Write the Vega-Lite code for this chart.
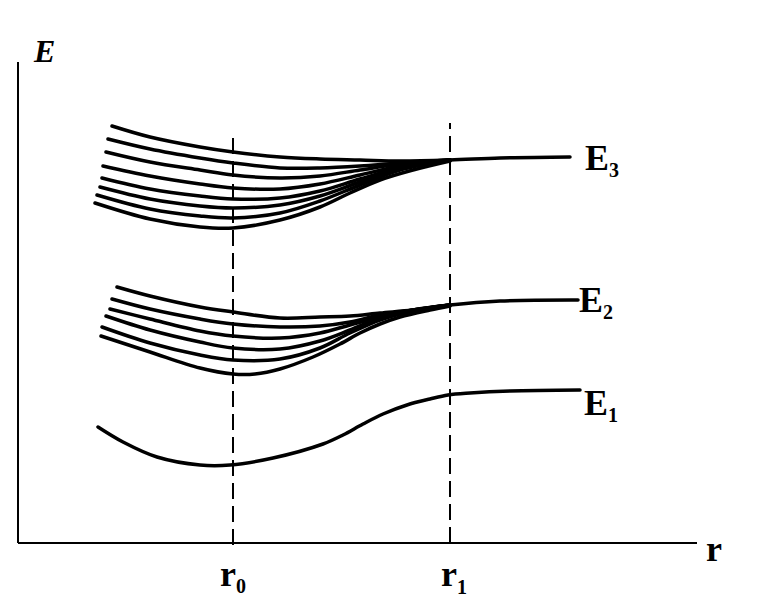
{
  "$schema": "https://vega.github.io/schema/vega-lite/v6.json",
  "width": 760,
  "height": 600,
  "padding": 0,
  "autosize": {"type": "fit", "contains": "padding"},
  "background": "white",
  "config": {"view": {"stroke": null}},
  "datasets": {
    "curves": [
      {"s": "E3a", "r": 112, "E": 474}, {"s": "E3a", "r": 150, "E": 463}, {"s": "E3a", "r": 200, "E": 453}, {"s": "E3a", "r": 233, "E": 448}, {"s": "E3a", "r": 280, "E": 443}, {"s": "E3a", "r": 320, "E": 441}, {"s": "E3a", "r": 360, "E": 440}, {"s": "E3a", "r": 400, "E": 439}, {"s": "E3a", "r": 450, "E": 440}, {"s": "E3a", "r": 500, "E": 442}, {"s": "E3a", "r": 570, "E": 443},
      {"s": "E3b", "r": 108, "E": 461}, {"s": "E3b", "r": 150, "E": 451}, {"s": "E3b", "r": 200, "E": 442}, {"s": "E3b", "r": 233, "E": 437}, {"s": "E3b", "r": 280, "E": 432}, {"s": "E3b", "r": 320, "E": 432}, {"s": "E3b", "r": 360, "E": 434}, {"s": "E3b", "r": 400, "E": 437}, {"s": "E3b", "r": 450, "E": 440},
      {"s": "E3c", "r": 106, "E": 448}, {"s": "E3c", "r": 150, "E": 438}, {"s": "E3c", "r": 200, "E": 430}, {"s": "E3c", "r": 233, "E": 425}, {"s": "E3c", "r": 280, "E": 422}, {"s": "E3c", "r": 320, "E": 424}, {"s": "E3c", "r": 360, "E": 430}, {"s": "E3c", "r": 400, "E": 436}, {"s": "E3c", "r": 450, "E": 440},
      {"s": "E3d", "r": 103, "E": 434}, {"s": "E3d", "r": 150, "E": 424}, {"s": "E3d", "r": 200, "E": 416}, {"s": "E3d", "r": 233, "E": 412}, {"s": "E3d", "r": 280, "E": 411}, {"s": "E3d", "r": 320, "E": 416}, {"s": "E3d", "r": 360, "E": 425}, {"s": "E3d", "r": 400, "E": 434}, {"s": "E3d", "r": 450, "E": 440},
      {"s": "E3e", "r": 102, "E": 422}, {"s": "E3e", "r": 150, "E": 411}, {"s": "E3e", "r": 200, "E": 404}, {"s": "E3e", "r": 233, "E": 401}, {"s": "E3e", "r": 280, "E": 402}, {"s": "E3e", "r": 320, "E": 409}, {"s": "E3e", "r": 360, "E": 421}, {"s": "E3e", "r": 400, "E": 432}, {"s": "E3e", "r": 450, "E": 440},
      {"s": "E3f", "r": 100, "E": 413}, {"s": "E3f", "r": 150, "E": 401}, {"s": "E3f", "r": 200, "E": 394}, {"s": "E3f", "r": 233, "E": 392}, {"s": "E3f", "r": 280, "E": 395}, {"s": "E3f", "r": 320, "E": 404}, {"s": "E3f", "r": 360, "E": 418}, {"s": "E3f", "r": 400, "E": 431}, {"s": "E3f", "r": 450, "E": 440},
      {"s": "E3g", "r": 97, "E": 405}, {"s": "E3g", "r": 150, "E": 391}, {"s": "E3g", "r": 200, "E": 384}, {"s": "E3g", "r": 233, "E": 382}, {"s": "E3g", "r": 280, "E": 387}, {"s": "E3g", "r": 320, "E": 399}, {"s": "E3g", "r": 360, "E": 415}, {"s": "E3g", "r": 400, "E": 430}, {"s": "E3g", "r": 450, "E": 440},
      {"s": "E3h", "r": 95, "E": 397}, {"s": "E3h", "r": 150, "E": 381}, {"s": "E3h", "r": 200, "E": 373}, {"s": "E3h", "r": 233, "E": 372}, {"s": "E3h", "r": 280, "E": 380}, {"s": "E3h", "r": 320, "E": 393}, {"s": "E3h", "r": 350, "E": 407}, {"s": "E3h", "r": 380, "E": 420}, {"s": "E3h", "r": 413, "E": 430}, {"s": "E3h", "r": 450, "E": 439},
      {"s": "E2a", "r": 117, "E": 313}, {"s": "E2a", "r": 150, "E": 304}, {"s": "E2a", "r": 200, "E": 293}, {"s": "E2a", "r": 233, "E": 288}, {"s": "E2a", "r": 280, "E": 282}, {"s": "E2a", "r": 320, "E": 283}, {"s": "E2a", "r": 350, "E": 284}, {"s": "E2a", "r": 380, "E": 287}, {"s": "E2a", "r": 413, "E": 290}, {"s": "E2a", "r": 450, "E": 295}, {"s": "E2a", "r": 500, "E": 299}, {"s": "E2a", "r": 578, "E": 300},
      {"s": "E2b", "r": 112, "E": 301}, {"s": "E2b", "r": 150, "E": 291}, {"s": "E2b", "r": 200, "E": 281}, {"s": "E2b", "r": 233, "E": 276}, {"s": "E2b", "r": 280, "E": 273}, {"s": "E2b", "r": 320, "E": 274}, {"s": "E2b", "r": 350, "E": 278}, {"s": "E2b", "r": 380, "E": 285}, {"s": "E2b", "r": 413, "E": 290}, {"s": "E2b", "r": 450, "E": 295},
      {"s": "E2c", "r": 110, "E": 291}, {"s": "E2c", "r": 150, "E": 281}, {"s": "E2c", "r": 200, "E": 269}, {"s": "E2c", "r": 233, "E": 264}, {"s": "E2c", "r": 280, "E": 262}, {"s": "E2c", "r": 320, "E": 267}, {"s": "E2c", "r": 350, "E": 275}, {"s": "E2c", "r": 380, "E": 283}, {"s": "E2c", "r": 413, "E": 290}, {"s": "E2c", "r": 450, "E": 295},
      {"s": "E2d", "r": 106, "E": 284}, {"s": "E2d", "r": 150, "E": 270}, {"s": "E2d", "r": 200, "E": 258}, {"s": "E2d", "r": 233, "E": 252}, {"s": "E2d", "r": 280, "E": 251}, {"s": "E2d", "r": 320, "E": 259}, {"s": "E2d", "r": 350, "E": 270}, {"s": "E2d", "r": 380, "E": 282}, {"s": "E2d", "r": 413, "E": 290}, {"s": "E2d", "r": 450, "E": 295},
      {"s": "E2e", "r": 102, "E": 273}, {"s": "E2e", "r": 150, "E": 257}, {"s": "E2e", "r": 200, "E": 245}, {"s": "E2e", "r": 233, "E": 240}, {"s": "E2e", "r": 280, "E": 241}, {"s": "E2e", "r": 320, "E": 252}, {"s": "E2e", "r": 350, "E": 267}, {"s": "E2e", "r": 380, "E": 280}, {"s": "E2e", "r": 413, "E": 289}, {"s": "E2e", "r": 450, "E": 295},
      {"s": "E2f", "r": 101, "E": 264}, {"s": "E2f", "r": 150, "E": 248}, {"s": "E2f", "r": 200, "E": 232}, {"s": "E2f", "r": 233, "E": 226}, {"s": "E2f", "r": 255, "E": 226}, {"s": "E2f", "r": 280, "E": 231}, {"s": "E2f", "r": 313, "E": 243}, {"s": "E2f", "r": 340, "E": 256}, {"s": "E2f", "r": 360, "E": 267}, {"s": "E2f", "r": 380, "E": 276}, {"s": "E2f", "r": 400, "E": 283}, {"s": "E2f", "r": 430, "E": 290}, {"s": "E2f", "r": 450, "E": 294},
      {"s": "E1", "r": 98, "E": 173}, {"s": "E1", "r": 123, "E": 158}, {"s": "E1", "r": 157, "E": 143}, {"s": "E1", "r": 200, "E": 135}, {"s": "E1", "r": 230, "E": 135}, {"s": "E1", "r": 273, "E": 142}, {"s": "E1", "r": 323, "E": 156}, {"s": "E1", "r": 343, "E": 165}, {"s": "E1", "r": 363, "E": 176}, {"s": "E1", "r": 383, "E": 186}, {"s": "E1", "r": 407, "E": 195}, {"s": "E1", "r": 430, "E": 201}, {"s": "E1", "r": 448, "E": 205}, {"s": "E1", "r": 470, "E": 207}, {"s": "E1", "r": 510, "E": 209}, {"s": "E1", "r": 580, "E": 210}
    ],
    "axes": [
      {"r": 18, "r2": 18, "E": 57, "E2": 538},
      {"r": 18, "r2": 697, "E": 57, "E2": 57}
    ],
    "marks": [
      {"r": 233, "E": 55, "E2": 462},
      {"r": 450, "E": 57, "E2": 477}
    ],
    "labels": [
      {"t": "E", "r": 585, "E": 430},
      {"t": "E", "r": 579, "E": 288},
      {"t": "E", "r": 584, "E": 185},
      {"t": "r", "r": 706, "E": 39},
      {"t": "r", "r": 220, "E": 14},
      {"t": "r", "r": 441, "E": 14}
    ],
    "subs": [
      {"t": "3", "r": 609, "E": 423},
      {"t": "2", "r": 603, "E": 281},
      {"t": "1", "r": 608, "E": 178},
      {"t": "0", "r": 236, "E": 7},
      {"t": "1", "r": 457, "E": 6}
    ],
    "title": [
      {"t": "E", "r": 34, "E": 538}
    ]
  },
  "encoding": {
    "x": {"field": "r", "type": "quantitative", "scale": {"domain": [0, 760], "nice": false, "zero": false}, "axis": null},
    "y": {"field": "E", "type": "quantitative", "scale": {"domain": [0, 600], "nice": false, "zero": false}, "axis": null}
  },
  "layer": [
    {
      "data": {"name": "axes"},
      "mark": {"type": "rule", "color": "black", "strokeWidth": 2},
      "encoding": {"x2": {"field": "r2"}, "y2": {"field": "E2"}}
    },
    {
      "data": {"name": "marks"},
      "mark": {"type": "rule", "color": "black", "strokeWidth": 2, "strokeDash": [16, 7]},
      "encoding": {"y2": {"field": "E2"}}
    },
    {
      "data": {"name": "curves"},
      "mark": {"type": "line", "color": "black", "strokeWidth": 3.5, "strokeCap": "round", "interpolate": "catmull-rom"},
      "encoding": {"detail": {"field": "s", "type": "nominal"}}
    },
    {
      "data": {"name": "labels"},
      "mark": {"type": "text", "font": "Liberation Serif", "fontWeight": "bold", "fontSize": 36, "align": "left", "baseline": "alphabetic", "color": "black"},
      "encoding": {"text": {"field": "t"}}
    },
    {
      "data": {"name": "subs"},
      "mark": {"type": "text", "font": "Liberation Serif", "fontWeight": "bold", "fontSize": 20, "align": "left", "baseline": "alphabetic", "color": "black"},
      "encoding": {"text": {"field": "t"}}
    },
    {
      "data": {"name": "title"},
      "mark": {"type": "text", "font": "Liberation Serif", "fontWeight": "bold", "fontStyle": "italic", "fontSize": 32, "align": "left", "baseline": "alphabetic", "color": "black"},
      "encoding": {"text": {"field": "t"}}
    }
  ]
}
